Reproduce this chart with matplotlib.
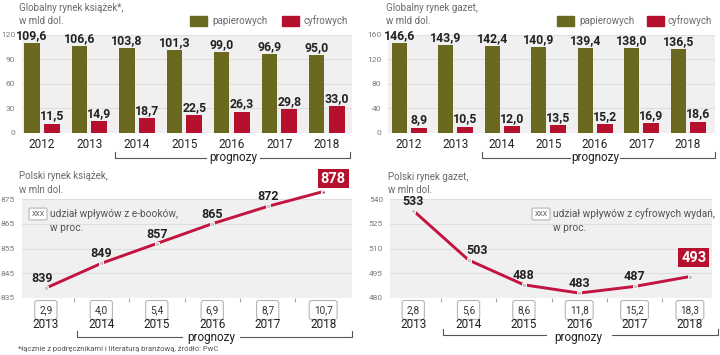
import matplotlib
matplotlib.use("Agg")
import matplotlib.pyplot as plt
from matplotlib import font_manager
from matplotlib.patches import Rectangle
from matplotlib.lines import Line2D

# ---------------- data ----------------
years_bar = ["2012", "2013", "2014", "2015", "2016", "2017", "2018"]
books_paper = [109.6, 106.6, 103.8, 101.3, 99.0, 96.9, 95.0]
books_digital = [11.5, 14.9, 18.7, 22.5, 26.3, 29.8, 33.0]
news_paper = [146.6, 143.9, 142.4, 140.9, 139.4, 138.0, 136.5]
news_digital = [8.9, 10.5, 12.0, 13.5, 15.2, 16.9, 18.6]
books_yticks = [0, 30, 60, 90, 120]
news_yticks = [0, 40, 80, 120, 160]

years_line = ["2013", "2014", "2015", "2016", "2017", "2018"]
pl_books = [839, 849, 857, 865, 872, 878]
pl_books_share = ["2,9", "4,0", "5,4", "6,9", "8,7", "10,7"]
pl_news = [533, 503, 488, 483, 487, 493]
pl_news_share = ["2,8", "5,6", "8,6", "11,8", "15,2", "18,3"]
pl_books_yticks = [835, 845, 855, 865, 875]
pl_news_yticks = [480, 495, 510, 525, 540]

# ---------------- style ----------------
names = {f.name for f in font_manager.fontManager.ttflist}
REG = "Roboto" if "Roboto" in names else "DejaVu Sans"
BOLD = REG
OLIVE = "#6a691f"
RED = "#b5112f"
LINE = "#c2143e"
BG = "#f0f0f0"
GRID = "#dedede"
TXT = "#222222"
GREY = "#7a7a7a"
SUB = "#6a6a6a"

W, H = 720, 355
fig = plt.figure(figsize=(7.2, 3.55), dpi=100)
fig.patch.set_facecolor("white")


def ax_px(x0, y0, x1, y1):
    return fig.add_axes([x0 / W, 1 - y1 / H, (x1 - x0) / W, (y1 - y0) / H])


def ftext(x, y, s, **kw):
    fig.text(x / W, 1 - y / H, s, **kw)


def style_axes(ax, yticks, ylim):
    ax.set_facecolor(BG)
    for sp in ax.spines.values():
        sp.set_visible(False)
    ax.set_ylim(*ylim)
    ax.set_yticks(yticks)
    ax.set_yticklabels([str(t) for t in yticks], fontsize=6, color=GREY, family=REG)
    ax.tick_params(axis="y", length=0, pad=5)
    ax.grid(axis="y", color=GRID, linewidth=0.8)
    ax.set_axisbelow(True)


def bracket(x0, x1, y, xt0, xt1, label_x, label_y):
    kw = dict(color="#555555", linewidth=0.8)
    fig.add_artist(Line2D([x0 / W, x0 / W, xt0 / W], [1 - (y - 6) / H, 1 - y / H, 1 - y / H], **kw))
    fig.add_artist(Line2D([xt1 / W, x1 / W, x1 / W], [1 - y / H, 1 - y / H, 1 - (y - 6) / H], **kw))
    ftext(label_x, label_y, "prognozy", fontsize=8.5, color=TXT, family=REG, ha="center",
          va="center")


def legend(xo, xr):
    fig.add_artist(Rectangle((xo / W, 1 - 26 / H), 17 / W, 10 / H, color=OLIVE,
                             transform=fig.transFigure))
    ftext(xo + 22, 20.5, "papierowych", fontsize=7, color=SUB, family=REG, va="center")
    fig.add_artist(Rectangle((xr / W, 1 - 26 / H), 17 / W, 10 / H, color=RED,
                             transform=fig.transFigure))
    ftext(xr + 21, 20.5, "cyfrowych", fontsize=7, color=SUB, family=REG, va="center")


def fmt(v):
    return f"{v:.1f}".replace(".", ",")


def bar_chart(box, paper, digital, yticks, ylim, xlim):
    ax = ax_px(*box)
    style_axes(ax, yticks, ylim)
    xs = list(range(len(years_bar)))
    ax.bar([x - 0.21 for x in xs], paper, width=0.32, color=OLIVE, zorder=3)
    ax.bar([x + 0.21 for x in xs], digital, width=0.34, color=RED, zorder=3)
    for x, v in zip(xs, paper):
        ax.annotate(fmt(v), (x - 0.21, v), xytext=(0, 1), textcoords="offset pixels",
                    ha="center", va="bottom", fontsize=8.8, fontweight="bold", color=TXT,
                    family=BOLD, annotation_clip=False)
    for x, v in zip(xs, digital):
        ax.annotate(fmt(v), (x + 0.21, v), xytext=(0, 1), textcoords="offset pixels",
                    ha="center", va="bottom", fontsize=8.8, fontweight="bold", color=TXT,
                    family=BOLD)
    ax.set_xlim(*xlim)
    ax.set_xticks(xs)
    ax.set_xticklabels([])
    ax.tick_params(axis="x", length=0)
    for x, y in zip(xs, years_bar):
        ax.annotate(y, (x, 0), xycoords=("data", "axes fraction"), xytext=(0, -12),
                    textcoords="offset pixels", ha="center", va="center", fontsize=8.5,
                    color=TXT, family=REG, annotation_clip=False)
    return ax


def line_chart(box, vals, shares, yticks, ylim, xlim, offsets):
    ax = ax_px(*box)
    style_axes(ax, yticks, ylim)
    xs = list(range(len(years_line)))
    ax.plot(xs, vals, color=LINE, linewidth=2.1, zorder=3, clip_on=False, solid_capstyle="round")
    ax.plot(xs, vals, linestyle="none", marker="s", markersize=3, markerfacecolor="#c8c8c8",
            markeredgecolor="white", markeredgewidth=0.6, zorder=4, clip_on=False)
    for i, (x, v) in enumerate(zip(xs[:-1], vals[:-1])):
        dx, dy = offsets[i]
        ax.annotate(str(v), (x, v), xytext=(dx, dy), textcoords="offset pixels",
                    ha="center", va="bottom", fontsize=9, fontweight="bold", color=TXT,
                    family=BOLD, annotation_clip=False)
    ax.set_xlim(*xlim)
    ax.set_xticks([x + 0.5 for x in xs[:-1]])
    ax.set_xticklabels([])
    ax.tick_params(axis="x", length=3, color="#aaaaaa", width=0.8, direction="out")
    for x, s, y in zip(xs, shares, years_line):
        ax.annotate(s, (x, 0), xycoords=("data", "axes fraction"), xytext=(0, -12),
                    textcoords="offset pixels", ha="center", va="center", fontsize=7.2,
                    color="#333333", family=REG, annotation_clip=False,
                    bbox=dict(boxstyle="round,pad=0.45,rounding_size=0.25", fc="white",
                              ec="#b5b5b5", lw=0.8))
        ax.annotate(y, (x, 0), xycoords=("data", "axes fraction"), xytext=(0, -27),
                    textcoords="offset pixels", ha="center", va="center", fontsize=8.5,
                    color=TXT, family=REG, annotation_clip=False)
    return ax


def highlight(ax, v, dx, dy):
    ax.annotate(str(v), (5, v), xytext=(dx, dy), textcoords="offset pixels",
                ha="center", va="center", fontsize=10.5, fontweight="bold", color="white",
                family=BOLD, annotation_clip=False, zorder=6,
                bbox=dict(boxstyle="square,pad=0.2", fc=RED, ec="none"),
                arrowprops=dict(arrowstyle="-", color="#666666", lw=0.8,
                                connectionstyle="angle,angleA=90,angleB=0,rad=0",
                                shrinkA=7, shrinkB=2))


def key(x, y, line1):
    ftext(x, y, "XXX", fontsize=5, color="#555555", family=REG, ha="center", va="center",
          bbox=dict(boxstyle="round,pad=0.35,rounding_size=0.2", fc="white", ec="#b5b5b5",
                    lw=0.8))
    ftext(x + 12, y, line1, fontsize=7.3, color="#555555", family=REG, va="center")
    ftext(x + 12, y + 14, "w proc.", fontsize=7.3, color="#555555", family=REG, va="center")


# ---------------- top-left: global books ----------------
ftext(19, 8, "Globalny rynek książek*,", fontsize=7, color=SUB, family=REG, va="center")
ftext(19, 21, "w mld dol.", fontsize=7, color=SUB, family=REG, va="center")
legend(190, 282)
bar_chart((22, 35, 352, 133), books_paper, books_digital, books_yticks, (0, 120), (-0.42, 6.53))
bracket(115, 350, 158, 206, 260, 233, 157)

# ---------------- top-right: global newspapers ----------------
ftext(386, 8, "Globalny rynek gazet,", fontsize=7, color=SUB, family=REG, va="center")
ftext(386, 21, "w mld dol.", fontsize=7, color=SUB, family=REG, va="center")
legend(557, 647)
bar_chart((388, 35, 715, 133), news_paper, news_digital, news_yticks, (0, 160), (-0.45, 6.58))
bracket(482, 715, 158, 570, 620, 595, 157)

# ---------------- bottom-left: Polish books ----------------
ftext(19, 176, "Polski rynek książek,", fontsize=7, color=SUB, family=REG, va="center")
ftext(19, 190, "w mln dol.", fontsize=7, color=SUB, family=REG, va="center")
axb = line_chart((22, 199, 352, 298), pl_books, pl_books_share, pl_books_yticks, (835, 875),
                 (-0.43, 5.52), [(-4, 3), (0, 3), (0, 3), (0, 3), (0, 3)])
key(38, 214, "udział wpływów z e-booków,")
highlight(axb, pl_books[-1], 10, 13)
bracket(77, 352, 337, 182, 240, 211, 338)
ftext(18, 349, "*łącznie z podręcznikami i literaturą branżową, źródło: PwC", fontsize=5.5,
      color="#555555", family=REG, va="center")

# ---------------- bottom-right: Polish newspapers ----------------
ftext(388, 177, "Polski rynek gazet,", fontsize=7, color=SUB, family=REG, va="center")
ftext(388, 190, "w mln dol.", fontsize=7, color=SUB, family=REG, va="center")
axn = line_chart((390, 199, 712, 298), pl_news, pl_news_share, pl_news_yticks, (480, 540),
                 (-0.42, 5.4), [(0, 3), (9, 3), (0, 3), (0, 3), (0, 3)])
key(541, 214, "udział wpływów z cyfrowych wydań,")
highlight(axn, pl_news[-1], 4, 19)
bracket(443, 718, 335, 546, 612, 578, 338)

fig.savefig("out.png", dpi=100, facecolor="white")
